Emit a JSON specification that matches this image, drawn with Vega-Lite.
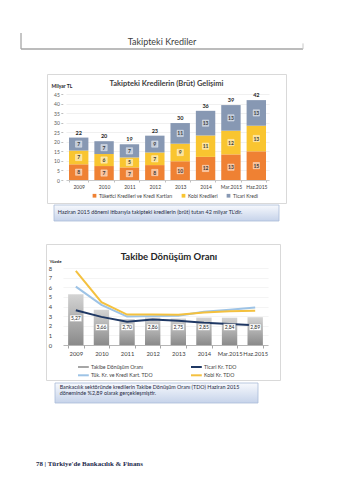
{
  "$schema": "https://vega.github.io/schema/vega-lite/v6.json",
  "background": "#ffffff",
  "padding": {"left": 20, "top": 32, "right": 0, "bottom": 0},
  "spacing": 0,
  "resolve": {"scale": {"color": "independent", "stroke": "independent"}},
  "config": {
    "view": {"stroke": null},
    "font": "Lato",
    "locale": {"number": {"decimal": ",", "thousands": ".", "grouping": [3], "currency": ["", " TL"]}}
  },
  "datasets": {
    "bos": [],
    "krediler": [
      {"yil": "2009", "tur": "Tüketici Kredileri ve Kredi Kartları", "tutar": 8.2},
      {"yil": "2009", "tur": "Kobi Kredileri", "tutar": 7.2},
      {"yil": "2009", "tur": "Ticari Kredi", "tutar": 6.8},
      {"yil": "2010", "tur": "Tüketici Kredileri ve Kredi Kartları", "tutar": 7.3},
      {"yil": "2010", "tur": "Kobi Kredileri", "tutar": 6.3},
      {"yil": "2010", "tur": "Ticari Kredi", "tutar": 6.7},
      {"yil": "2011", "tur": "Tüketici Kredileri ve Kredi Kartları", "tutar": 6.6},
      {"yil": "2011", "tur": "Kobi Kredileri", "tutar": 5.2},
      {"yil": "2011", "tur": "Ticari Kredi", "tutar": 6.9},
      {"yil": "2012", "tur": "Tüketici Kredileri ve Kredi Kartları", "tutar": 7.8},
      {"yil": "2012", "tur": "Kobi Kredileri", "tutar": 6.6},
      {"yil": "2012", "tur": "Ticari Kredi", "tutar": 8.8},
      {"yil": "2013", "tur": "Tüketici Kredileri ve Kredi Kartları", "tutar": 9.8},
      {"yil": "2013", "tur": "Kobi Kredileri", "tutar": 9.2},
      {"yil": "2013", "tur": "Ticari Kredi", "tutar": 10.8},
      {"yil": "2014", "tur": "Tüketici Kredileri ve Kredi Kartları", "tutar": 12.1},
      {"yil": "2014", "tur": "Kobi Kredileri", "tutar": 11.2},
      {"yil": "2014", "tur": "Ticari Kredi", "tutar": 12.9},
      {"yil": "Mar.2015", "tur": "Tüketici Kredileri ve Kredi Kartları", "tutar": 13.4},
      {"yil": "Mar.2015", "tur": "Kobi Kredileri", "tutar": 12.4},
      {"yil": "Mar.2015", "tur": "Ticari Kredi", "tutar": 13.4},
      {"yil": "Haz.2015", "tur": "Tüketici Kredileri ve Kredi Kartları", "tutar": 15.0},
      {"yil": "Haz.2015", "tur": "Kobi Kredileri", "tutar": 13.4},
      {"yil": "Haz.2015", "tur": "Ticari Kredi", "tutar": 13.4}
    ],
    "tdo": [
      {"yil": "2009", "seri": "Takibe Dönüşüm Oranı", "oran": 5.27},
      {"yil": "2010", "seri": "Takibe Dönüşüm Oranı", "oran": 3.66},
      {"yil": "2011", "seri": "Takibe Dönüşüm Oranı", "oran": 2.70},
      {"yil": "2012", "seri": "Takibe Dönüşüm Oranı", "oran": 2.86},
      {"yil": "2013", "seri": "Takibe Dönüşüm Oranı", "oran": 2.75},
      {"yil": "2014", "seri": "Takibe Dönüşüm Oranı", "oran": 2.85},
      {"yil": "Mar.2015", "seri": "Takibe Dönüşüm Oranı", "oran": 2.84},
      {"yil": "Haz.2015", "seri": "Takibe Dönüşüm Oranı", "oran": 2.89},
      {"yil": "2009", "seri": "Ticari Kr. TDO", "oran": 3.62},
      {"yil": "2010", "seri": "Ticari Kr. TDO", "oran": 2.92},
      {"yil": "2011", "seri": "Ticari Kr. TDO", "oran": 2.42},
      {"yil": "2012", "seri": "Ticari Kr. TDO", "oran": 2.66},
      {"yil": "2013", "seri": "Ticari Kr. TDO", "oran": 2.52},
      {"yil": "2014", "seri": "Ticari Kr. TDO", "oran": 2.32},
      {"yil": "Mar.2015", "seri": "Ticari Kr. TDO", "oran": 2.18},
      {"yil": "Haz.2015", "seri": "Ticari Kr. TDO", "oran": 2.04},
      {"yil": "2009", "seri": "Tük. Kr. ve Kredi Kart. TDO", "oran": 6.07},
      {"yil": "2010", "seri": "Tük. Kr. ve Kredi Kart. TDO", "oran": 4.17},
      {"yil": "2011", "seri": "Tük. Kr. ve Kredi Kart. TDO", "oran": 2.95},
      {"yil": "2012", "seri": "Tük. Kr. ve Kredi Kart. TDO", "oran": 3.0},
      {"yil": "2013", "seri": "Tük. Kr. ve Kredi Kart. TDO", "oran": 3.05},
      {"yil": "2014", "seri": "Tük. Kr. ve Kredi Kart. TDO", "oran": 3.45},
      {"yil": "Mar.2015", "seri": "Tük. Kr. ve Kredi Kart. TDO", "oran": 3.65},
      {"yil": "Haz.2015", "seri": "Tük. Kr. ve Kredi Kart. TDO", "oran": 3.9},
      {"yil": "2009", "seri": "Kobi Kr. TDO", "oran": 7.7},
      {"yil": "2010", "seri": "Kobi Kr. TDO", "oran": 4.45},
      {"yil": "2011", "seri": "Kobi Kr. TDO", "oran": 3.16},
      {"yil": "2012", "seri": "Kobi Kr. TDO", "oran": 3.16},
      {"yil": "2013", "seri": "Kobi Kr. TDO", "oran": 3.14},
      {"yil": "2014", "seri": "Kobi Kr. TDO", "oran": 3.38},
      {"yil": "Mar.2015", "seri": "Kobi Kr. TDO", "oran": 3.5},
      {"yil": "Haz.2015", "seri": "Kobi Kr. TDO", "oran": 3.57}
    ]
  },
  "vconcat": [
    {
      "width": 282, "height": 16,
      "data": {"values": [{"baslik": "Takipteki Krediler"}]},
      "layer": [
        {"mark": {"type": "rule", "color": "#8c8c8c", "strokeWidth": 1},
         "encoding": {"x": {"datum": 0, "type": "quantitative", "scale": {"domain": [0, 1], "nice": false, "zero": false}, "axis": null}}},
        {"mark": {"type": "rule", "color": "#a6a6a6", "strokeWidth": 1.5},
         "encoding": {"y": {"datum": 0, "type": "quantitative", "scale": {"domain": [0, 1], "nice": false, "zero": false}, "axis": null}}},
        {"mark": {"type": "rule", "color": "#c8c8c8", "strokeWidth": 1},
         "encoding": {"x": {"datum": 1, "type": "quantitative"}, "y": {"datum": 0, "type": "quantitative"}, "y2": {"datum": 0.35}}},
        {"mark": {"type": "text", "fontSize": 9, "color": "#404040", "baseline": "middle"},
         "encoding": {"x": {"datum": 0.5, "type": "quantitative"}, "y": {"datum": 0.46, "type": "quantitative"}, "text": {"field": "baslik"}}}
      ]
    },
    {"width": 1, "height": 23, "data": {"name": "bos"}, "mark": {"type": "point", "opacity": 0}, "encoding": {}},
    {
      "spacing": 0,
      "resolve": {"scale": {"color": "independent", "stroke": "independent"}},
      "hconcat": [
        {"width": 25, "height": 1, "data": {"name": "bos"}, "mark": {"type": "point", "opacity": 0}, "encoding": {}},
        {
          "width": 239, "height": 129,
          "view": {"stroke": "#d9d9d9", "strokeWidth": 1},
          "title": {"text": "Takipteki Kredilerin (Brüt) Gelişimi", "fontSize": 7.5, "fontWeight": "bold", "color": "#404040", "anchor": "middle", "offset": -13},
          "data": {"name": "krediler"},
          "transform": [{"stack": "tutar", "groupby": ["yil"], "as": ["alt", "ust"]}],
          "encoding": {
            "x": {"field": "yil", "type": "nominal",
                  "sort": ["2009", "2010", "2011", "2012", "2013", "2014", "Mar.2015", "Haz.2015"],
                  "scale": {"range": [19, 222], "paddingInner": 0.235, "paddingOuter": 0.1175},
                  "axis": {"title": null, "orient": "bottom", "offset": -23, "labelAngle": 0, "labelFontSize": 5, "labelColor": "#404040", "labelPadding": 2, "domainColor": "#bfbfbf", "domainWidth": 0.8, "tickColor": "#bfbfbf", "tickSize": 2, "tickBand": "extent", "grid": false}}
          },
          "layer": [
            {
              "mark": {"type": "bar"},
              "encoding": {
                "y": {"field": "alt", "type": "quantitative",
                      "scale": {"domain": [0, 45], "range": [106, 20], "nice": false, "zero": false},
                      "axis": {"title": "Milyar TL", "values": [0, 5, 10, 15, 20, 25, 30, 35, 40, 45], "format": "d", "tickCount": 12, "labelOverlap": false, "offset": -15.8, "domain": false, "ticks": true, "tickSize": 2, "tickColor": "#bfbfbf", "labelPadding": 1.5, "labelFontSize": 5, "labelColor": "#595959", "grid": true, "gridColor": "#e6e6e6", "gridWidth": 0.6, "titleAngle": 0, "titleAlign": "left", "titleBaseline": "middle", "titleX": -11.8, "titleY": 11, "titleFontSize": 5, "titleFontWeight": "bold", "titleColor": "#262626"}},
                "y2": {"field": "ust"},
                "color": {"field": "tur", "type": "nominal",
                          "scale": {"domain": ["Tüketici Kredileri ve Kredi Kartları", "Kobi Kredileri", "Ticari Kredi"], "range": ["#EF8133", "#F9C530", "#8798B3"]},
                          "legend": {"title": null, "orient": "none", "legendX": 45, "legendY": 119, "direction": "horizontal", "symbolType": "square", "symbolSize": 14, "labelFontSize": 5, "labelColor": "#404040", "columnPadding": 8, "labelOffset": 2, "padding": 0, "symbolStrokeWidth": 0}}
              }
            },
            {
              "transform": [
                {"fold": ["alt", "ust"], "as": ["uc", "konum"]},
                {"aggregate": [{"op": "mean", "field": "konum", "as": "orta"}], "groupby": ["yil", "tur", "tutar"]}
              ],
              "layer": [
                {"mark": {"type": "point", "shape": "square", "size": 40, "filled": true, "fill": "#ffffff", "fillOpacity": 0.5, "stroke": "#ffffff", "strokeOpacity": 0.7, "strokeWidth": 0.5},
                 "encoding": {"y": {"field": "orta", "type": "quantitative"}}},
                {"mark": {"type": "text", "fontSize": 5, "color": "#3a3a3a", "fontWeight": "bold", "baseline": "middle"},
                 "encoding": {"y": {"field": "orta", "type": "quantitative"}, "text": {"field": "tutar", "format": ".0f"}}}
              ]
            },
            {
              "mark": {"type": "text", "dy": -5, "fontSize": 5.5, "fontWeight": "bold", "color": "#262626"},
              "encoding": {
                "y": {"aggregate": "max", "field": "ust", "type": "quantitative"},
                "text": {"aggregate": "sum", "field": "tutar", "format": ".0f"}
              }
            }
          ]
        }
      ]
    },
    {
      "spacing": 0,
      "hconcat": [
        {"width": 32, "height": 1, "data": {"name": "bos"}, "mark": {"type": "point", "opacity": 0}, "encoding": {}},
        {
          "width": 225, "height": 16,
          "data": {"values": [{"metin": "Haziran 2015 dönemi itibarıyla takipteki kredilerin (brüt) tutarı 42 milyar TL'dir."}]},
          "layer": [
            {"mark": {"type": "rect", "stroke": "#a9bbd8", "strokeWidth": 0.8,
                      "fill": {"gradient": "linear", "x1": 0, "y1": 0, "x2": 0, "y2": 1, "stops": [{"offset": 0, "color": "#f7f9fd"}, {"offset": 1, "color": "#c6d3ea"}]}},
             "encoding": {"x": {"datum": 0, "type": "quantitative", "scale": {"domain": [0, 1], "nice": false, "zero": false}, "axis": null}, "x2": {"datum": 1},
                          "y": {"datum": 0, "type": "quantitative", "scale": {"domain": [0, 1], "nice": false, "zero": false}, "axis": null}, "y2": {"datum": 1}}},
            {"mark": {"type": "text", "align": "left", "baseline": "middle", "fontSize": 5.4, "color": "#1f2a44"},
             "encoding": {"x": {"datum": 0.017, "type": "quantitative"}, "y": {"datum": 0.54, "type": "quantitative"}, "text": {"field": "metin"}}}
          ]
        }
      ]
    },
    {"width": 1, "height": 21, "data": {"name": "bos"}, "mark": {"type": "point", "opacity": 0}, "encoding": {}},
    {
      "spacing": 0,
      "resolve": {"scale": {"color": "independent", "stroke": "independent"}},
      "hconcat": [
        {"width": 24, "height": 1, "data": {"name": "bos"}, "mark": {"type": "point", "opacity": 0}, "encoding": {}},
        {
          "width": 234, "height": 136,
          "view": {"stroke": "#d9d9d9", "strokeWidth": 1},
          "title": {"text": "Takibe Dönüşüm Oranı", "fontSize": 9.5, "fontWeight": "bold", "color": "#262626", "anchor": "middle", "dx": 6, "offset": -17},
          "data": {"name": "tdo"},
          "encoding": {
            "x": {"field": "yil", "type": "nominal",
                  "sort": ["2009", "2010", "2011", "2012", "2013", "2014", "Mar.2015", "Haz.2015"],
                  "scale": {"range": [17, 222], "paddingInner": 0.4, "paddingOuter": 0.2},
                  "axis": {"title": null, "orient": "bottom", "offset": -35, "labelAngle": 0, "labelFontSize": 5.8, "labelColor": "#404040", "labelPadding": 2, "domainColor": "#a6a6a6", "domainWidth": 0.8, "tickColor": "#a6a6a6", "tickSize": 3, "tickBand": "extent", "grid": false}}
          },
          "layer": [
            {
              "transform": [{"filter": "datum.seri === 'Takibe Dönüşüm Oranı'"}],
              "mark": {"type": "bar", "strokeWidth": 0,
                       "fill": {"gradient": "linear", "x1": 0, "y1": 0, "x2": 0, "y2": 1, "stops": [{"offset": 0, "color": "#d4d4d4"}, {"offset": 1, "color": "#8a8a8a"}]}},
              "encoding": {
                "y": {"field": "oran", "type": "quantitative",
                      "scale": {"domain": [0, 8], "range": [101, 24], "nice": false, "zero": false},
                      "axis": {"title": "Yüzde", "values": [0, 1, 2, 3, 4, 5, 6, 7, 8], "format": "d", "tickCount": 12, "labelOverlap": false, "offset": -7.5, "domain": false, "ticks": false, "tickSize": 0, "labelPadding": 2, "labelFontSize": 5.8, "labelColor": "#404040", "grid": true, "gridColor": "#ededed", "gridWidth": 0.6, "titleAngle": 0, "titleAlign": "left", "titleBaseline": "middle", "titleX": -4.5, "titleY": 17, "titleFontSize": 4.5, "titleFontWeight": "bold", "titleColor": "#262626"}}
              }
            },
            {
              "transform": [{"filter": "datum.seri !== 'Takibe Dönüşüm Oranı'"}],
              "mark": {"type": "line", "strokeWidth": 2},
              "encoding": {
                "y": {"field": "oran", "type": "quantitative"},
                "stroke": {"field": "seri", "type": "nominal",
                           "scale": {"domain": ["Takibe Dönüşüm Oranı", "Ticari Kr. TDO", "Tük. Kr. ve Kredi Kart. TDO", "Kobi Kr. TDO"], "range": ["#a6a6a6", "#1F3864", "#9DC3E6", "#F4C13F"]},
                           "legend": {"title": null, "orient": "none", "legendX": 33.4, "legendY": 119, "columns": 2, "direction": "horizontal", "symbolType": "M-1.8,0L1.8,0", "symbolSize": 36, "symbolStrokeWidth": 2, "labelFontSize": 5.2, "labelColor": "#404040", "columnPadding": 33, "rowPadding": 0.3, "labelOffset": 3.6, "padding": 0}}
              }
            },
            {
              "transform": [{"filter": "datum.seri === 'Takibe Dönüşüm Oranı' && datum.yil === '2009'"}],
              "layer": [
                {"mark": {"type": "point", "shape": "M-1,-0.55L1,-0.55L1,0.55L-1,0.55Z", "size": 144, "filled": true, "fill": "#ffffff", "stroke": "#a6a6a6", "strokeWidth": 0.5, "opacity": 1},
                 "encoding": {"y": {"datum": 2.77, "type": "quantitative"}}},
                {"mark": {"type": "text", "fontSize": 5, "color": "#262626", "baseline": "middle"},
                 "encoding": {"y": {"datum": 2.77, "type": "quantitative"}, "text": {"field": "oran", "format": ".2f"}}}
              ]
            },
            {
              "transform": [{"filter": "datum.seri === 'Takibe Dönüşüm Oranı' && datum.yil !== '2009'"}],
              "layer": [
                {"mark": {"type": "point", "shape": "M-1,-0.55L1,-0.55L1,0.55L-1,0.55Z", "size": 144, "filled": true, "fill": "#ffffff", "stroke": "#a6a6a6", "strokeWidth": 0.5, "opacity": 1},
                 "encoding": {"y": {"datum": 1.85, "type": "quantitative"}}},
                {"mark": {"type": "text", "fontSize": 5, "color": "#262626", "baseline": "middle"},
                 "encoding": {"y": {"datum": 1.85, "type": "quantitative"}, "text": {"field": "oran", "format": ".2f"}}}
              ]
            }
          ]
        }
      ]
    },
    {"width": 1, "height": 1, "data": {"name": "bos"}, "mark": {"type": "point", "opacity": 0}, "encoding": {}},
    {
      "spacing": 0,
      "hconcat": [
        {"width": 33, "height": 1, "data": {"name": "bos"}, "mark": {"type": "point", "opacity": 0}, "encoding": {}},
        {
          "width": 203, "height": 20,
          "data": {"values": [{"metin": "Bankacılık sektöründe kredilerin Takibe Dönüşüm Oranı (TDO) Haziran 2015\ndöneminde %2,89 olarak gerçekleşmiştir."}]},
          "layer": [
            {"mark": {"type": "rect", "stroke": "#a9bbd8", "strokeWidth": 0.8,
                      "fill": {"gradient": "linear", "x1": 0, "y1": 0, "x2": 0, "y2": 1, "stops": [{"offset": 0, "color": "#f7f9fd"}, {"offset": 1, "color": "#c6d3ea"}]}},
             "encoding": {"x": {"datum": 0, "type": "quantitative", "scale": {"domain": [0, 1], "nice": false, "zero": false}, "axis": null}, "x2": {"datum": 1},
                          "y": {"datum": 0, "type": "quantitative", "scale": {"domain": [0, 1], "nice": false, "zero": false}, "axis": null}, "y2": {"datum": 1}}},
            {"mark": {"type": "text", "align": "left", "baseline": "top", "fontSize": 5.4, "lineHeight": 6.2, "lineBreak": "\n", "color": "#1f2a44"},
             "encoding": {"x": {"datum": 0.023, "type": "quantitative"}, "y": {"datum": 0.885, "type": "quantitative"}, "text": {"field": "metin"}}}
          ]
        }
      ]
    },
    {"width": 1, "height": 55, "data": {"name": "bos"}, "mark": {"type": "point", "opacity": 0}, "encoding": {}},
    {
      "spacing": 0,
      "hconcat": [
        {"width": 15, "height": 1, "data": {"name": "bos"}, "mark": {"type": "point", "opacity": 0}, "encoding": {}},
        {
          "width": 200, "height": 10,
          "data": {"values": [{"metin": "78  |  Türkiye'de Bankacılık & Finans"}]},
          "mark": {"type": "text", "align": "left", "baseline": "middle", "font": "Liberation Serif", "fontWeight": "bold", "fontSize": 6.9, "color": "#1d2b4c"},
          "encoding": {
            "x": {"datum": 0, "type": "quantitative", "scale": {"domain": [0, 1], "nice": false, "zero": false}, "axis": null},
            "y": {"datum": 0.5, "type": "quantitative", "scale": {"domain": [0, 1], "nice": false, "zero": false}, "axis": null},
            "text": {"field": "metin"}
          }
        }
      ]
    }
  ]
}
